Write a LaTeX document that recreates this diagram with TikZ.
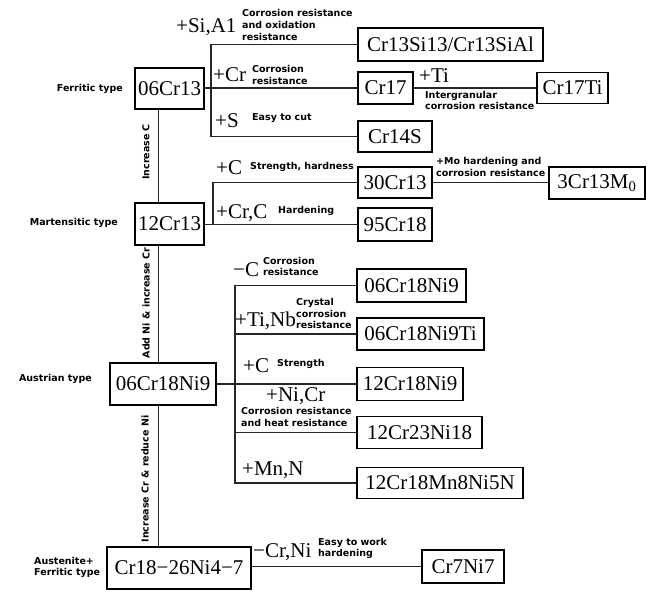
\documentclass[tikz,border=0pt]{standalone}
\usepackage{fontspec}
\setmainfont{Liberation Serif}
\newfontfamily\labfont{DejaVu Sans}
\begin{document}
\begin{tikzpicture}[x=1pt,y=-1pt,
  box/.style={draw=black,line width=1.8pt,inner sep=0pt,font=\fontsize{21}{21}\selectfont},
  conn/.style={draw=black!85,line width=1.3pt},
  lab/.style={inner sep=0pt,align=left,font=\labfont\bfseries\fontsize{9.5}{11.8}\selectfont},
  add/.style={inner sep=0pt,anchor=base west,font=\fontsize{21}{21}\selectfont},
  vlab/.style={lab,rotate=90}]
\useasboundingbox (0,0) rectangle (661,615);

% main column
\node[box,minimum width=69pt,minimum height=41pt] (b1) at (169.5,88.5) {06Cr13};
\node[box,minimum width=69pt,minimum height=42pt] (b2) at (169.5,224) {12Cr13};
\node[box,minimum width=106pt,minimum height=42pt] (b3) at (163,384) {06Cr18Ni9};
\node[box,minimum width=144pt,minimum height=42pt] (b4) at (179,568) {Cr18−26Ni4−7};

% right boxes
\node[box,minimum width=185pt,minimum height=33pt] (r1) at (450.5,44.5) {Cr13Si13/Cr13SiAl};
\node[box,minimum width=55pt,minimum height=32pt] (r2) at (385.5,88) {Cr17};
\node[box,minimum width=71pt,minimum height=31pt] (r3) at (572.5,88) {Cr17Ti};
\node[box,minimum width=74pt,minimum height=31pt] (r4) at (395,136.5) {Cr14S};
\node[box,minimum width=74pt,minimum height=31pt] (r5) at (395,182.5) {30Cr13};
\node[box,minimum width=96pt,minimum height=32pt] (r6) at (597,183) {3Cr13M\textsubscript{0}};
\node[box,minimum width=74pt,minimum height=33pt] (r7) at (395,224.5) {95Cr18};
\node[box,minimum width=109pt,minimum height=33pt] (a1) at (411.5,285.5) {06Cr18Ni9};
\node[box,minimum width=127pt,minimum height=32pt] (a2) at (420.5,334) {06Cr18Ni9Ti};
\node[box,minimum width=106pt,minimum height=33pt] (a3) at (410,384) {12Cr18Ni9};
\node[box,minimum width=125pt,minimum height=32pt] (a4) at (419.5,432.5) {12Cr23Ni18};
\node[box,minimum width=166pt,minimum height=31pt] (a5) at (440,483) {12Cr18Mn8Ni5N};
\node[box,minimum width=82pt,minimum height=33pt] (c1) at (463,566.5) {Cr7Ni7};

% type labels
\node[lab,anchor=east] (t1) at (123,89) {Ferritic type};
\node[lab,anchor=east] (t2) at (118,223) {Martensitic type};
\node[lab,anchor=east] (t3) at (92,379) {Austrian type};
\node[lab,anchor=west] (t4) at (34,567.5) {Austenite+\\Ferritic type};

% trunk
\coordinate (tr) at (158.5,0);
\draw[conn] (b1.south -| tr) -- (b2.north -| tr);
\draw[conn] (b2.south -| tr) -- (b3.north -| tr);
\draw[conn] (b3.south -| tr) -- (b4.north -| tr);
\node[vlab] (v1) at (146,152) {Increase C};
\node[vlab] (v2) at (146,303) {Add Ni \& increase Cr};
\node[vlab] (v3) at (145,479) {Increase Cr \& reduce Ni};

% ferritic branch
\coordinate (fj) at (211,88);
\draw[conn] (b1.east |- r2.west) -- (r2.west);
\draw[conn] (r1.west) -| (fj) |- (r4.west);
\draw[conn] (r2.east) -- (r3.west);
\node[add] (p1) at (176,33) {+Si,A1};
\node[lab,anchor=west] (l1) at (242,25) {Corrosion resistance\\and oxidation\\resistance};
\node[add] (p2) at (213,82) {+Cr};
\node[lab,anchor=west] (l2) at (252,75) {Corrosion\\resistance};
\node[add] (p3) at (215,128) {+S};
\node[lab,anchor=west] (l3) at (252,118) {Easy to cut};
\node[add] (p4) at (419,83) {+Ti};
\node[lab,anchor=west] (l4) at (425,100.5) {Intergranular\\corrosion resistance};

% martensitic branch
\coordinate (mj) at (213,224);
\draw[conn] (b2.east |- r7.west) -- (r7.west);
\draw[conn] (r5.west) -| (mj);
\draw[conn] (r5.east) -- (r6.west |- r5.east);
\node[add] (p5) at (216,174) {+C};
\node[lab,anchor=west] (l5) at (250,167) {Strength, hardness};
\node[add] (p6) at (216,218) {+Cr,C};
\node[lab,anchor=west] (l6) at (278,211) {Hardening};
\node[lab,anchor=west] (l7) at (436,167) {+Mo hardening and\\corrosion resistance};

% austenitic branch
\coordinate (aj) at (235,384);
\draw[conn] (b3.east) -- (a3.west);
\draw[conn] (a1.west) -| (aj) |- (a5.west);
\draw[conn] (a2.west) -| (aj);
\draw[conn] (a4.west) -| (aj);
\node[add] (p7) at (233,276) {−C};
\node[lab,anchor=west] (l8) at (263,266.5) {Corrosion\\resistance};
\node[add] (p8) at (235,326) {+Ti,Nb};
\node[lab,anchor=west] (l9) at (296,313.5) {Crystal\\corrosion\\resistance};
\node[add] (p9) at (243,372) {+C};
\node[lab,anchor=west] (l10) at (277,364) {Strength};
\node[add] (p10) at (266,401) {+Ni,Cr};
\node[lab,anchor=west] (l11) at (241,417) {Corrosion resistance\\and heat resistance};
\node[add] (p11) at (242,475) {+Mn,N};

% duplex branch
\draw[conn] (b4.east |- c1.west) -- (c1.west);
\node[add] (p12) at (253,557) {−Cr,Ni};
\node[lab,anchor=west] (l12) at (318,548.5) {Easy to work\\hardening};
\end{tikzpicture}
\end{document}
